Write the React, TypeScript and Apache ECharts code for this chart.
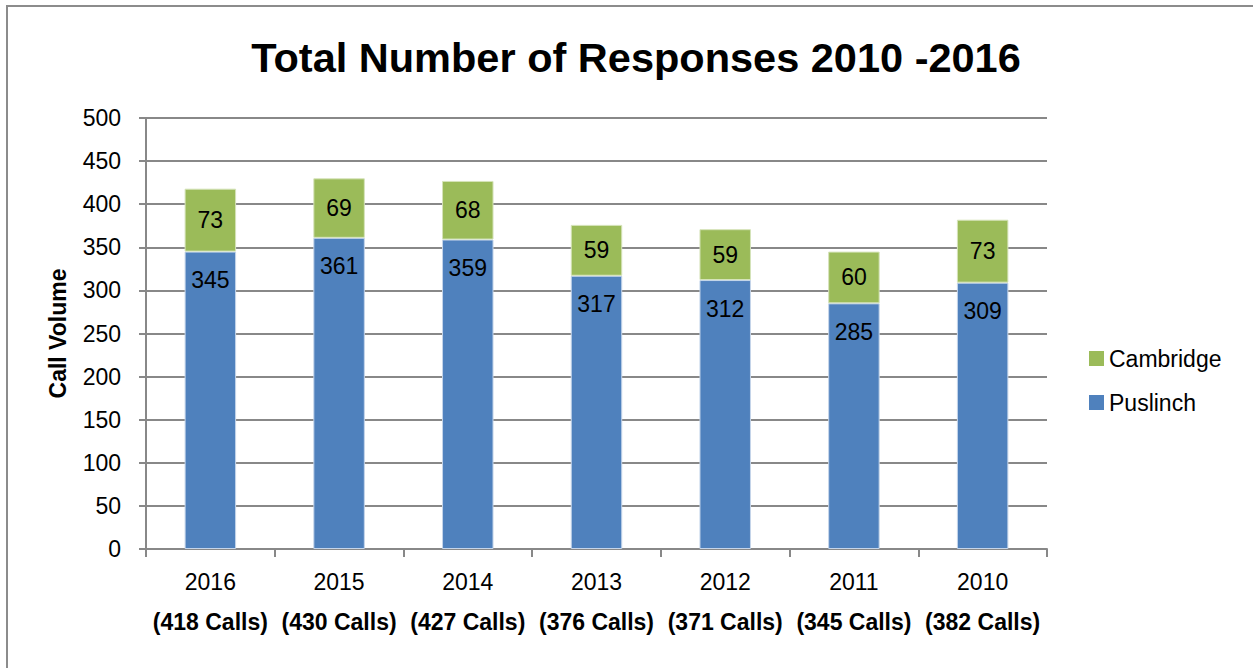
import React, { useEffect, useRef } from "react";
import * as echarts from "echarts";

const years = ["2016", "2015", "2014", "2013", "2012", "2011", "2010"];
const totalCalls = [418, 430, 427, 376, 371, 345, 382];
const puslinch = [345, 361, 359, 317, 312, 285, 309];
const cambridge = [73, 69, 68, 59, 59, 60, 73];
const yTicks = { min: 0, max: 500, interval: 50 };

const FONT = "'Liberation Sans', 'DejaVu Sans', sans-serif";
const GRAY = "#888888";

export default function App() {
  const ref = useRef<HTMLDivElement>(null);
  useEffect(() => {
    document.body.style.margin = "0";
    const chart = echarts.init(ref.current!, undefined, { renderer: "svg" });
    const categories = years.map((y, i) => `${y}\n{b|(${totalCalls[i]} Calls)}`);
    chart.setOption({
      animation: false,
      backgroundColor: "#ffffff",
      textStyle: { fontFamily: FONT },
      title: {
        text: "Total Number of Responses 2010 -2016",
        left: 631,
        top: 31,
        textAlign: "center",
        textStyle: { fontSize: 41.5, fontWeight: "bold", color: "#000", fontFamily: FONT },
      },
      graphic: [
        {
          type: "rect",
          shape: { x: 7, y: 6, width: 1300, height: 700 },
          style: { fill: "none", stroke: "#8c8c8c", lineWidth: 2 },
          silent: true,
        },
      ],
      legend: {
        orient: "vertical",
        left: 1084,
        top: 342,
        itemWidth: 15,
        itemHeight: 15,
        itemGap: 21,
        icon: "rect",
        itemStyle: { borderWidth: 0 },
        data: ["Cambridge", "Puslinch"],
        textStyle: { fontSize: 23, color: "#000", fontFamily: FONT },
      },
      grid: { left: 146, right: 206, top: 118, bottom: 119, containLabel: false },
      xAxis: {
        type: "category",
        data: categories,
        axisLine: { lineStyle: { color: GRAY, width: 2 } },
        axisTick: { show: true, length: 8, lineStyle: { color: GRAY, width: 2 } },
        axisLabel: {
          interval: 0,
          margin: 13,
          fontSize: 23,
          color: "#000",
          lineHeight: 40,
          fontFamily: FONT,
          rich: { b: { fontWeight: "bold", fontSize: 23, color: "#000", lineHeight: 40, fontFamily: FONT } },
        },
      },
      yAxis: {
        type: "value",
        min: yTicks.min,
        max: yTicks.max,
        interval: yTicks.interval,
        name: "Call Volume",
        nameLocation: "middle",
        nameGap: 77,
        nameTextStyle: { fontSize: 23, fontWeight: "bold", color: "#000", fontFamily: FONT },
        axisLine: { show: true, lineStyle: { color: GRAY, width: 2 } },
        axisTick: { show: true, length: 7, lineStyle: { color: GRAY, width: 2 } },
        axisLabel: { fontSize: 23, color: "#000", margin: 25, fontFamily: FONT },
        splitLine: { lineStyle: { color: GRAY, width: 2 } },
      },
      series: [
        {
          name: "Puslinch",
          type: "bar",
          stack: "total",
          data: puslinch,
          barWidth: "40%",
          itemStyle: { color: "#4F81BD", borderColor: "#c5d5ea", borderWidth: 1 },
          label: {
            show: true,
            position: "insideTop",
            distance: 17,
            fontSize: 23,
            color: "#000",
            fontFamily: FONT,
          },
        },
        {
          name: "Cambridge",
          type: "bar",
          stack: "total",
          data: cambridge,
          barWidth: "40%",
          itemStyle: { color: "#9BBB59", borderColor: "#d5e3b9", borderWidth: 1 },
          label: { show: true, position: "inside", fontSize: 23, color: "#000", fontFamily: FONT },
        },
      ],
    });
    return () => chart.dispose();
  }, []);
  return <div ref={ref} style={{ width: 1253, height: 668 }} />;
}
